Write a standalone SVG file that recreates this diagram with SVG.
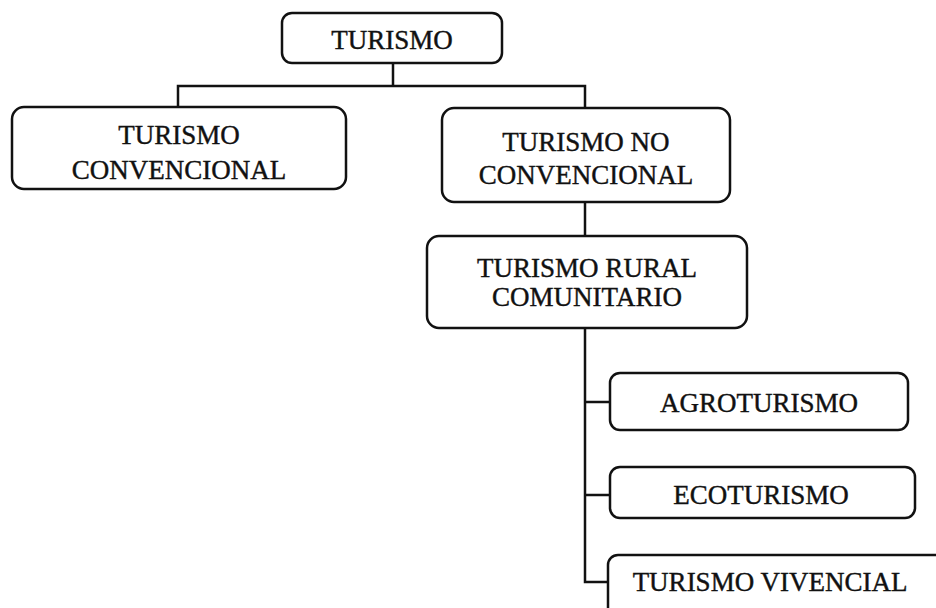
<svg xmlns="http://www.w3.org/2000/svg" width="936" height="608" viewBox="0 0 936 608">
<style>
.box{fill:#fff;stroke:#111;stroke-width:2.5}
.conn{fill:none;stroke:#111;stroke-width:2.5}
text{font-family:"Liberation Serif","Times New Roman",serif;font-size:27px;fill:#111;stroke:#111;stroke-width:0.4;text-anchor:middle}
</style>
<rect width="936" height="608" fill="#fff"/>
<g id="connectors">
<path class="conn" d="M393,63 V86 M178,108 V86 H585 V108"/>
<path class="conn" d="M585,202 V236"/>
<path class="conn" d="M585,328 V582 H608 M585,402 H610 M585,495 H610"/>
</g>
<g id="n-turismo">
<rect class="box" x="282" y="13" width="220" height="50" rx="10"/>
<text x="392" y="49">TURISMO</text>
</g>
<g id="n-convencional">
<rect class="box" x="12" y="107" width="334" height="82" rx="12"/>
<text x="179" y="144">TURISMO</text>
<text x="179" y="179">CONVENCIONAL</text>
</g>
<g id="n-noconvencional">
<rect class="box" x="442" y="108" width="288" height="94" rx="12"/>
<text x="586" y="151">TURISMO NO</text>
<text x="586" y="184">CONVENCIONAL</text>
</g>
<g id="n-rural">
<rect class="box" x="427" y="236" width="320" height="92" rx="12"/>
<text x="587" y="277">TURISMO RURAL</text>
<text x="587" y="306">COMUNITARIO</text>
</g>
<g id="n-agro">
<rect class="box" x="610" y="373" width="298" height="57" rx="10"/>
<text x="759" y="412">AGROTURISMO</text>
</g>
<g id="n-eco">
<rect class="box" x="610" y="467" width="305" height="51" rx="10"/>
<text x="761" y="504">ECOTURISMO</text>
</g>
<g id="n-vivencial">
<rect class="box" x="608" y="555" width="360" height="80" rx="10"/>
<text x="770" y="591">TURISMO VIVENCIAL</text>
</g>
</svg>
